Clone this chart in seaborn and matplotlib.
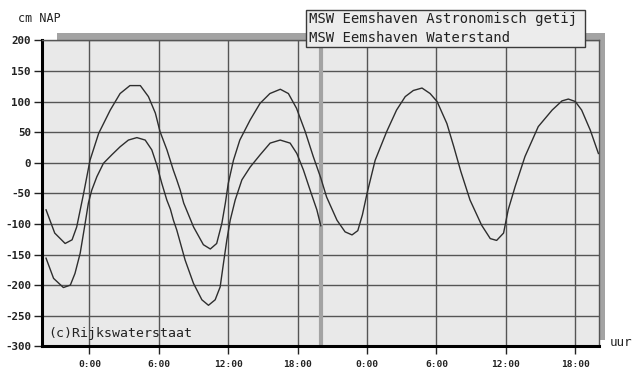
import matplotlib
matplotlib.use("Agg")
import matplotlib.pyplot as plt
from matplotlib.patches import Rectangle
import seaborn as sns
import pandas as pd

# ---- data (hours since 0:00 of first day, cm NAP) ----
astro_hours = [-3.75, -3.0, -2.1, -1.5, -1.1, -0.5, 0.05, 0.8, 1.8, 2.65, 3.5, 4.4,
               5.1, 5.7, 6.1, 6.7, 7.25, 7.55, 7.85, 8.15, 9.0, 9.85, 10.45, 11.0,
               11.45, 11.75, 12.0, 12.45, 13.0, 13.9, 14.75, 15.6, 16.5, 17.2, 17.9,
               18.65, 19.35, 20.0, 20.5, 21.4, 22.1, 22.7, 23.2, 23.6, 24.0, 24.7,
               25.7, 26.55, 27.3, 28.0, 28.75, 29.45, 30.05, 30.9, 31.5, 32.1, 32.9,
               33.9, 34.65, 35.2, 35.8, 36.2, 36.8, 37.65, 38.8, 40.0, 40.85, 41.4,
               42.0, 42.55, 43.3, 44.0]
astro_cm = [-77, -115, -132, -126, -105, -50, 4, 48, 86, 113, 126, 126,
            108, 81, 51, 21, -12, -28, -45, -66, -105, -134, -141, -132,
            -99, -66, -34, 4, 37, 70, 97, 113, 120, 113, 89,
            51, 10, -25, -56, -94, -113, -118, -111, -85, -50, 4,
            51, 86, 108, 118, 122, 113, 100, 64, 26, -14, -61,
            -102, -124, -127, -115, -77, -39, 10, 59, 86, 101, 104,
            100, 86, 53, 15]

water_hours = [-3.75, -3.1, -2.25, -1.65, -1.25, -0.8, -0.37, -0.09, 0.2, 0.64, 1.21,
               1.94, 2.65, 3.37, 4.1, 4.82, 5.39, 5.83, 6.26, 6.69, 7.0, 7.26, 7.55,
               8.27, 8.99, 9.72, 10.29, 10.87, 11.3, 11.59, 11.88, 12.17, 12.6, 13.18,
               13.9, 14.76, 15.62, 16.49, 17.35, 17.93, 18.5, 19.08, 19.66, 20.0]
water_cm = [-156, -189, -204, -200, -181, -148, -99, -66, -45, -23, -1,
            13, 26, 37, 41, 37, 21, -4, -34, -61, -76, -94, -110,
            -159, -197, -224, -233, -224, -203, -164, -126, -94, -61, -28,
            -7, 13, 32, 37, 32, 15, -12, -45, -77, -103]

series_names = ["MSW Eemshaven Astronomisch getij", "MSW Eemshaven Waterstand"]
x_ticks = [0, 6, 12, 18, 24, 30, 36, 42]
x_tick_labels = ["0:00", "6:00", "12:00", "18:00", "0:00", "6:00", "12:00", "18:00"]
y_ticks = [200, 150, 100, 50, 0, -50, -100, -150, -200, -250, -300]
now_hour = 20.0

df = pd.concat([
    pd.DataFrame({"uur": astro_hours, "cm": astro_cm, "reeks": series_names[0]}),
    pd.DataFrame({"uur": water_hours, "cm": water_cm, "reeks": series_names[1]}),
])

W, H = 635, 373
fig = plt.figure(figsize=(W / 100, H / 100), dpi=100)
fig.patch.set_facecolor("white")

def fx(px):
    return px / W

def fy(py):
    return 1 - py / H

left, right, top, bottom = 42, 599, 40.3, 346.3
ax = fig.add_axes([fx(left), fy(bottom), fx(right) - fx(left), fy(top) - fy(bottom)])
ax.set_facecolor("#e9e9e9")

# drop shadow behind plot area
fig.patches.append(Rectangle((fx(57), fy(340)), fx(605) - fx(57), fy(33) - fy(340),
                             transform=fig.transFigure, facecolor="#a3a3a3",
                             edgecolor="none", zorder=-1))

sns.lineplot(data=df, x="uur", y="cm", hue="reeks", palette=["#2e2e2e", "#2e2e2e"],
             estimator=None, sort=False, linewidth=1.0, legend=False, ax=ax, zorder=3)

ax.axvline(now_hour, color="#a3a3a3", linewidth=3.0, zorder=2)

ax.set_xlim(-4.1, 44.05)
ax.set_ylim(-300, 200)
ax.set_xticks(x_ticks)
ax.set_xticklabels(x_tick_labels, family="DejaVu Sans Mono", fontweight="bold",
                   fontsize=6.8, color="#222222")
ax.set_yticks(y_ticks)
ax.set_yticklabels([str(v) for v in y_ticks], family="DejaVu Sans Mono",
                   fontweight="bold", fontsize=7.8, color="#222222")
ax.tick_params(axis="x", direction="out", length=6, width=1, pad=4, color="#222222")
ax.tick_params(axis="y", direction="out", length=6, width=1, pad=2, color="#222222")
ax.grid(True, color="#555555", linewidth=1.0, zorder=1)
ax.set_axisbelow(True)
ax.set_xlabel("")
ax.set_ylabel("")

for s in ["left", "bottom"]:
    ax.spines[s].set_color("black")
    ax.spines[s].set_linewidth(2.2)
for s in ["top", "right"]:
    ax.spines[s].set_color("#555555")
    ax.spines[s].set_linewidth(1.0)

mono = "DejaVu Sans Mono"
fig.text(fx(18), fy(18), "cm NAP", family=mono, fontsize=8.5, va="center", ha="left",
         color="#222222")
fig.text(fx(610), fy(343), "uur", family=mono, fontsize=9, va="center", ha="left",
         color="#222222")
ax.text(fx(48), fy(333), "(c)Rijkswaterstaat", family=mono, fontsize=9.5,
        va="center", ha="left", color="#222222", transform=fig.transFigure, zorder=4)

# legend box
fig.patches.append(Rectangle((fx(306), fy(47)), fx(585) - fx(306), fy(10) - fy(47),
                             transform=fig.transFigure, facecolor="#ececec",
                             edgecolor="#3a3a3a", linewidth=1.0, zorder=5))
fig.text(fx(309), fy(19.5), series_names[0], family=mono, fontsize=10, va="center",
         ha="left", color="#222222", zorder=6)
fig.text(fx(309), fy(37.5), series_names[1], family=mono, fontsize=10, va="center",
         ha="left", color="#222222", zorder=6)

fig.savefig("out.png", dpi=100)
